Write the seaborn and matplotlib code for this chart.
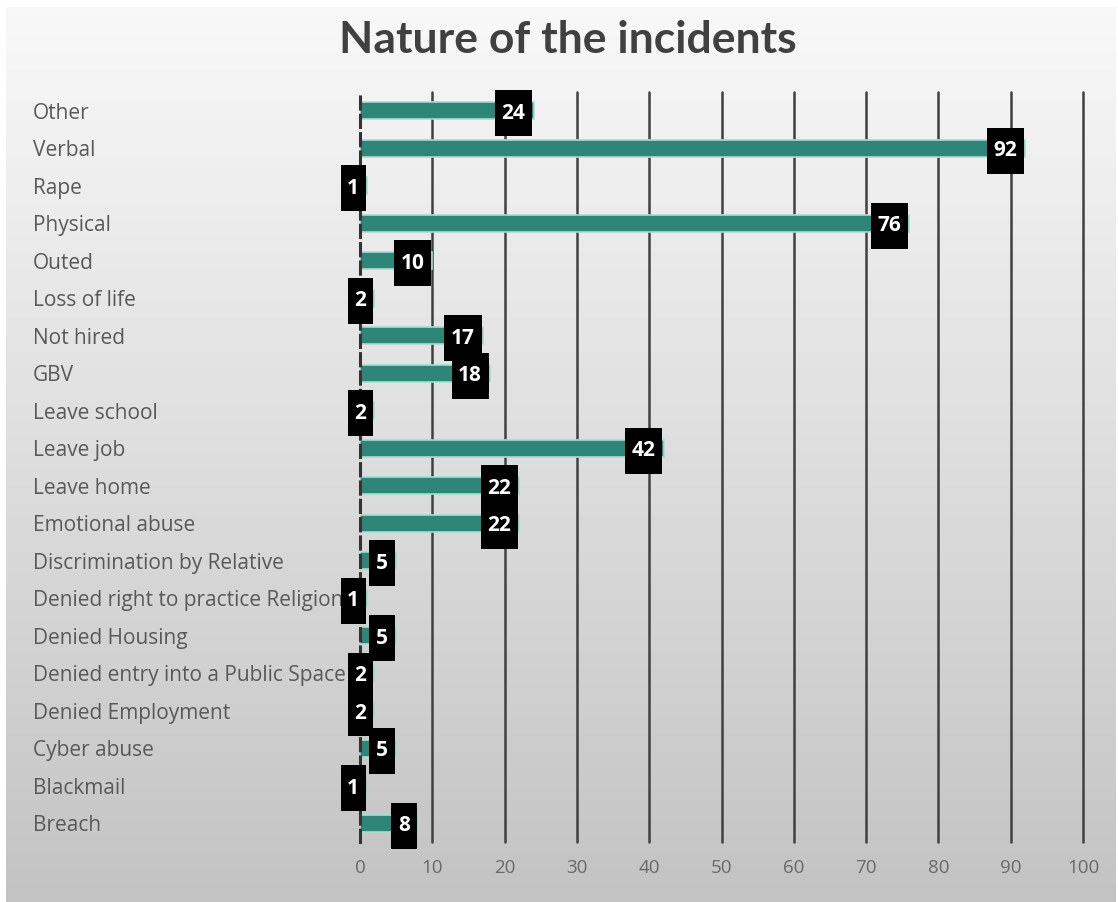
import numpy as np
import pandas as pd
import matplotlib
matplotlib.use("Agg")
import matplotlib.pyplot as plt
from matplotlib.path import Path
import seaborn as sns

# Incident categories (top to bottom) and their counts
categories = [
    "Other", "Verbal", "Rape", "Physical", "Outed", "Loss of life",
    "Not hired", "GBV", "Leave school", "Leave job", "Leave home",
    "Emotional abuse", "Discrimination by Relative",
    "Denied right to practice Religion", "Denied Housing",
    "Denied entry into a Public Space", "Denied Employment",
    "Cyber abuse", "Blackmail", "Breach",
]
counts = [24, 92, 1, 76, 10, 2, 17, 18, 2, 42, 22, 22, 5, 1, 5, 2, 2, 5, 1, 8]
x_ticks = [0, 10, 20, 30, 40, 50, 60, 70, 80, 90, 100]

df = pd.DataFrame({"category": categories, "count": counts})

sns.set_theme(style="white")
plt.rcParams["font.family"] = ["Open Sans", "DejaVu Sans"]

W, H, DPI = 1118, 902, 100
fig = plt.figure(figsize=(W / DPI, H / DPI), dpi=DPI, facecolor="white")

# Panel background: vertical grey gradient with a thin white margin
bg = fig.add_axes([6 / W, 0, 1 - 8 / W, 1 - 7 / H])
bg.set_zorder(-10)
grad = np.linspace(0, 1, 256).reshape(-1, 1)
top_c = np.array([0.975, 0.975, 0.975])
bot_c = np.array([0.765, 0.765, 0.765])
img = top_c[None, None, :] * (1 - grad[..., None]) + bot_c[None, None, :] * grad[..., None]
bg.imshow(img, aspect="auto", extent=[0, 1, 0, 1])
bg.set_axis_off()

ax = fig.add_axes([360 / W, 1 - 842 / H, (1083 - 360) / W, (842 - 92) / H])
ax.patch.set_alpha(0)

sns.barplot(data=df, x="count", y="category", color="#2d8677", saturation=1,
            width=0.45, orient="h", ax=ax,
            edgecolor="#a8dcd2", linewidth=1.2)

ax.set_xlim(0, 100)
ax.set_ylim(len(categories) - 0.5, -0.5)
ax.set_xticks(x_ticks)
ax.set_xlabel("")
ax.set_ylabel("")

# Vertical gridlines; the zero line is drawn as a dashed spine instead
ax.set_axisbelow(True)
ax.grid(axis="x", color="#404040", linewidth=1.8)
for gl in ax.xaxis.get_gridlines():
    gl.set_clip_on(False)
ax.xaxis.get_gridlines()[0].set_visible(False)
for side in ["top", "right", "bottom"]:
    ax.spines[side].set_visible(False)
ax.spines["left"].set_visible(True)
ax.spines["left"].set_color("#333333")
ax.spines["left"].set_linewidth(2.2)
ax.spines["left"].set_linestyle((0, (4, 2)))

ax.tick_params(axis="x", length=0, pad=12, labelsize=13.5, labelcolor="#6a6a6a")
ax.tick_params(axis="y", length=0, pad=235.4, labelsize=15, labelcolor="#595959")
for lab in ax.get_yticklabels():
    lab.set_horizontalalignment("left")


def tall_box(x0, y0, width, height, mutation_size):
    """Rectangular label box, taller than it is wide around its text."""
    px = 0.32 * mutation_size
    py = 0.6 * mutation_size
    x0, y0 = x0 - px, y0 - py
    x1, y1 = x0 + width + 2 * px, y0 + height + 2 * py
    return Path([(x0, y0), (x1, y0), (x1, y1), (x0, y1), (x0, y0)], closed=True)


# Value labels, placed inside the end of each bar
for i, v in enumerate(counts):
    ax.annotate(str(v), xy=(v, i), xytext=(-8, 0), textcoords="offset pixels",
                ha="right", va="center_baseline", color="white",
                fontsize=15, fontweight="bold", annotation_clip=False,
                bbox=dict(boxstyle=tall_box, facecolor="black", edgecolor="none"),
                zorder=5)

fig.text(568 / W, 1 - 40 / H, "Nature of the incidents", ha="center", va="center",
         fontsize=32, fontweight="bold", color="#404040",
         family=["Lato", "DejaVu Sans"])

fig.savefig("out.png", dpi=DPI, facecolor="white")
